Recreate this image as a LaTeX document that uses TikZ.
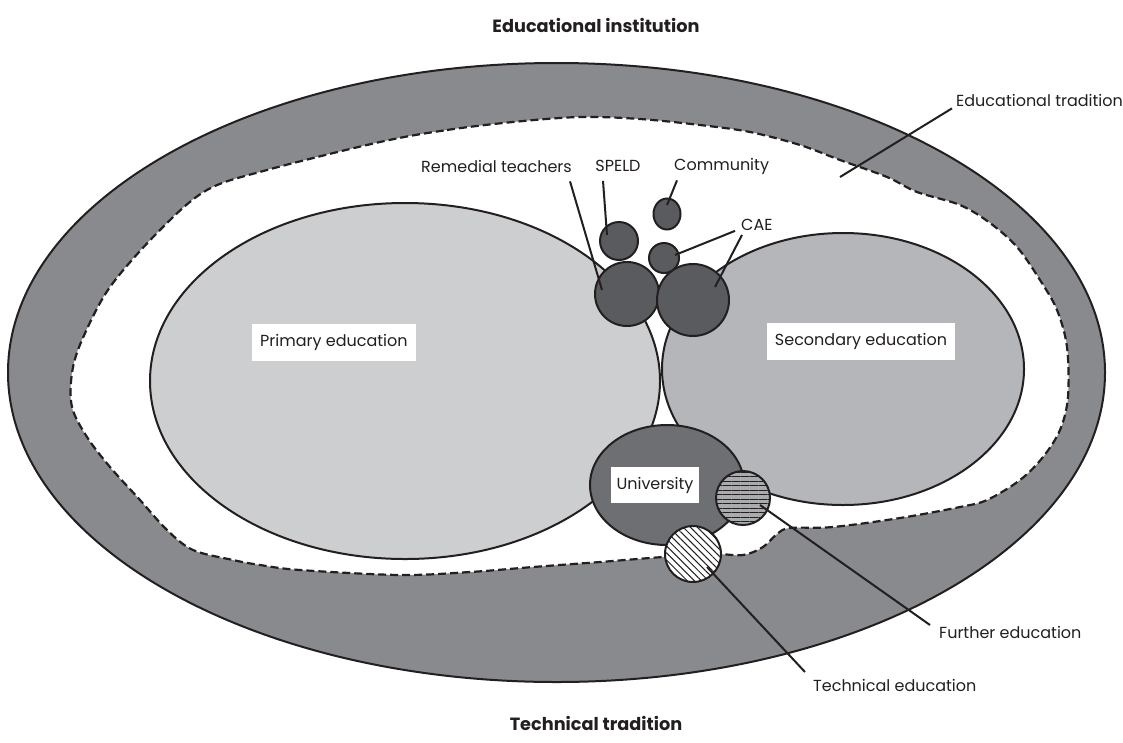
\documentclass[tikz,border=0pt]{standalone}
\usepackage{fontspec}
\setmainfont{Poppins}
\usepackage{tikz}
\usetikzlibrary{shapes.geometric}
\usetikzlibrary{patterns.meta}
\definecolor{ink}{RGB}{35, 31, 32}
\definecolor{bandgray}{RGB}{137, 138, 141}
\definecolor{primarygray}{RGB}{205, 206, 208}
\definecolor{secondarygray}{RGB}{181, 182, 185}
\definecolor{unigray}{RGB}{110, 111, 114}
\definecolor{blobgray}{RGB}{90, 91, 94}
\definecolor{furthergray}{RGB}{170, 171, 173}

\begin{document}
\begin{tikzpicture}[x=1pt, y=-1pt,
        outline/.style={draw=ink, line width=2pt},
        oval/.style={outline, ellipse, inner sep=0pt},
        blob/.style={outline, circle, fill=blobgray, inner sep=0pt},
        tag/.style={font=\fontsize{16}{18}\selectfont, text=ink, inner sep=1pt},
        box/.style={tag, fill=white, inner xsep=8pt, inner ysep=0pt, minimum height=37pt},
        heading/.style={font=\fontsize{17.7}{20}\selectfont\bfseries, text=ink, anchor=base},
        leader/.style={draw=ink, line width=2pt}]
            \useasboundingbox (0,0) rectangle (1123,742);
            \node[heading] (top)    at (596, 32) {Educational institution};
            \node[heading] (bottom) at (596,730) {Technical tradition};

            % the band and the educational tradition inside it
            \node[oval, fill=bandgray, minimum width=1097pt, minimum height=619pt] (institution) at (556.5,372.5) {};
            \filldraw[fill=white, draw=ink, line width=2.2pt, dash pattern=on 8pt off 4pt]
                plot[smooth cycle, tension=0.55] coordinates {
                (380,142) (447,130) (513,122) (580,117) (640,119) (700,125) (750,132) (800,145)
                (840,160) (887,177) (917,192) (960,205) (990,223) (1017,247) (1040,280) (1057,310)
                (1067,347) (1068,397) (1060,430) (1043,457) (1020,480) (987,500) (960,507) (900,518)
                (833,527) (790,528) (777,534) (763,547) (743,555) (713,554) (663,557) (600,562)
                (533,567) (470,572) (400,575) (300,570) (260,565) (233,560) (193,550) (167,530)
                (140,500) (110,467) (87,437) (72,407) (72,373) (82,340) (110,287) (160,230)
                (207,190) (267,170)};

            % sectors
            \node[oval, fill=primarygray,   minimum width=510pt, minimum height=356pt] (primary)    at (405,381) {};
            \node[oval, fill=secondarygray, minimum width=362pt, minimum height=272pt] (secondary)  at (843,369) {};
            \node[oval, fill=unigray,       minimum width=154pt, minimum height=120pt] (university) at (667,485) {};

            % support services
            \node[blob, minimum size=64pt] (remedial)  at (627,294) {};
            \node[blob, minimum size=72pt] (caebig)    at (693,300) {};
            \node[blob, minimum size=38pt] (speld)     at (619,241) {};
            \node[blob, minimum size=30pt] (caesmall)  at (664,258) {};
            \node[oval, fill=blobgray, minimum width=27pt, minimum height=31pt] (community) at (667,214) {};
            \node[blob, fill=furthergray, minimum size=54pt,
                  postaction={pattern={Lines[angle=0, distance=4.5pt, line width=1pt]}, pattern color=ink}] (further)   at (743,498) {};
            \node[blob, fill=white, minimum size=56pt,
                  postaction={pattern={Lines[angle=-45, distance=5pt, line width=1pt]}, pattern color=ink}] (technical) at (693,554) {};

            % labels
            \node[box, anchor=west] (primarytag)    at (252,342) {Primary education};
            \node[box]              (secondarytag)  at (861,341) {Secondary education};
            \node[box, inner xsep=6pt, minimum height=36pt] (universitytag) at (655,485) {University};
            \node[tag, anchor=east] (remedialtag)  at (573,166) {Remedial teachers};
            \node[tag]              (speldtag)     at (618,166) {SPELD};
            \node[tag, anchor=west] (communitytag) at (673,166) {Community};
            \node[tag, anchor=west] (caetag)       at (740,225) {CAE};
            \node[tag, anchor=west] (traditiontag) at (955,100) {Educational tradition};
            \node[tag, anchor=west] (furthertag)   at (938,632) {Further education};
            \node[tag, anchor=west] (technicaltag) at (812,685) {Technical education};
            \coordinate (traditionend) at (840,177);

            % leaders
            \draw[leader] ([shift={(-3,8)}]remedialtag.south east)  -- ([shift={(-25,-4)}]remedial.center);
            \draw[leader] ([shift={(-15,8)}]speldtag.south)         -- ([shift={(-12,-6)}]speld.center);
            \draw[leader] ([shift={(4,5)}]communitytag.south west)  -- ([shift={(0,-9)}]community.center);
            \draw[leader] ([shift={(-5,-1)}]caetag.south west)      -- ([shift={(11,-3)}]caesmall.center);
            \draw[leader] ([shift={(2,3)}]caetag.south west)        -- ([shift={(22,-13)}]caebig.center);
            \draw[leader] ([shift={(-3,1)}]traditiontag.south west) -- (traditionend);
            \draw[leader] ([shift={(-8,-7)}]furthertag.west)        -- ([shift={(17,7)}]further.center);
            \draw[leader] ([shift={(-7,-13)}]technicaltag.west)     -- ([shift={(14,13)}]technical.center);
        \end{tikzpicture}
\end{document}
